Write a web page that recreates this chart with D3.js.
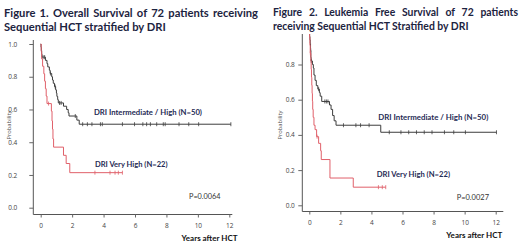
<!DOCTYPE html>
<html>
<head>
<meta charset="utf-8">
<script src="https://cdn.jsdelivr.net/npm/d3@7"></script>
<style>
  body { margin: 0; background: #fff; }
  #wrap { position: relative; width: 520px; height: 246px; overflow: hidden; }
  .title { position: absolute; font-family: Lato, "Open Sans", sans-serif; font-weight: bold;
           line-height: 13.5px; color: #1c2340; }
  .title .l1 { text-align: justify; text-align-last: justify; white-space: normal; }
  svg { position: absolute; left: 0; top: 0; }
</style>
</head>
<body>
<div id="wrap">
  <div class="title" id="t1" style="left:4px; top:6px; width:254px; font-size:11.2px;">
    <div class="l1">Figure 1. Overall Survival of 72 patients receiving</div>
    <div>Sequential HCT stratified by DRI</div>
  </div>
  <div class="title" id="t2" style="left:273px; top:6px; width:245px; font-size:10.4px;">
    <div class="l1">Figure 2. Leukemia Free Survival of 72 patients</div>
    <div>receiving Sequential HCT Stratified by DRI</div>
  </div>
</div>
<script>
// ---- data ----
var xTicks = [0, 2, 4, 6, 8, 10, 12];
var yTicks1 = [0, 0.2, 0.4, 0.6, 0.8, 1.0];
var yTicks2 = [0, 0.2, 0.4, 0.6, 0.8];

// Figure 1 - overall survival
var os_high_t = [0, 0.02, 0.04, 0.06, 0.08, 0.3, 0.4, 0.45, 0.55, 0.6, 0.7, 0.75, 0.8, 0.88, 0.95, 1.0, 1.03, 1.08, 1.12, 1.45, 1.65, 1.75, 1.8, 2.3, 2.45];
var os_high_s = [1.0, 0.98, 0.96, 0.94, 0.92, 0.90, 0.88, 0.86, 0.84, 0.82, 0.80, 0.78, 0.76, 0.74, 0.72, 0.70, 0.68, 0.66, 0.64, 0.62, 0.60, 0.58, 0.56, 0.535, 0.51];
var os_high_cens = [0.15, 0.25, 0.62, 0.92, 1.2, 1.3, 2.2, 2.67, 2.97, 3.26, 3.8, 3.92, 5.2, 5.97, 6.5, 6.74, 6.98, 7.38, 7.8, 7.92, 8.8, 9.42, 10.05, 12.1];
var os_vhigh_t = [0, 0.03, 0.06, 0.12, 0.2, 0.25, 0.3, 0.35, 0.4, 0.68, 0.72, 0.75, 0.78, 0.82, 1.45, 1.62, 1.85];
var os_vhigh_s = [1.0, 0.955, 0.909, 0.864, 0.818, 0.773, 0.727, 0.682, 0.636, 0.59, 0.53, 0.48, 0.42, 0.37, 0.32, 0.27, 0.214];
var os_vhigh_cens = [0.5, 3.45, 4.41, 4.73, 4.94, 5.2];

// Figure 2 - leukemia free survival
var lfs_high_t = [0, 0.02, 0.04, 0.06, 0.08, 0.1, 0.12, 0.2, 0.26, 0.3, 0.37, 0.45, 0.55, 0.65, 0.7, 0.8, 1.3, 1.4, 1.5, 1.6, 1.72, 4.6];
var lfs_high_s = [1.0, 0.96, 0.94, 0.92, 0.88, 0.84, 0.82, 0.80, 0.78, 0.74, 0.71, 0.68, 0.66, 0.64, 0.62, 0.59, 0.57, 0.545, 0.51, 0.48, 0.455, 0.415];
var lfs_high_cens = [0.09, 0.13, 0.6, 1.0, 1.1, 1.2, 2.2, 3.0, 3.3, 3.85, 5.15, 5.9, 6.4, 6.9, 7.4, 7.9, 8.7, 9.3, 10.05, 12.05];
var lfs_vhigh_t = [0, 0.02, 0.04, 0.06, 0.1, 0.12, 0.14, 0.16, 0.18, 0.2, 0.22, 0.25, 0.3, 0.37, 0.47, 0.6, 0.73, 0.77, 1.33, 2.83];
var lfs_vhigh_s = [1.0, 0.955, 0.909, 0.864, 0.818, 0.773, 0.727, 0.682, 0.636, 0.591, 0.545, 0.50, 0.455, 0.43, 0.39, 0.352, 0.31, 0.26, 0.155, 0.103];
var lfs_vhigh_cens = [0.07, 0.5, 4.45, 4.7, 4.92];

var highColor = "#3d3d3d";
var vhighColor = "#e0606a";
var labelColor = "#1f2b55";

var svg = d3.select("#wrap").append("svg")
    .attr("width", 520)
    .attr("height", 246);

function survAt(times, surv, t) {
    var s = surv[0];
    for (var i = 0; i < times.length; i++) {
        if (times[i] <= t) s = surv[i];
    }
    return s;
}

function drawPanel(p) {
    var x = d3.scaleLinear().domain([0, 12]).range([p.x0, p.x1]);
    var y = d3.scaleLinear().domain([0, 1]).range([p.y0, p.y1]);

    var g = svg.append("g");

    // clip (top of panel 2 is cut off in the original)
    var clipId = "clip" + p.id;
    svg.append("clipPath").attr("id", clipId)
      .append("rect")
        .attr("x", p.axisX)
        .attr("y", p.clipTop)
        .attr("width", p.axisEnd - p.axisX + 5)
        .attr("height", p.axisY - p.clipTop);

    // axes lines (L shaped frame)
    g.append("line")
        .attr("x1", p.axisX).attr("x2", p.axisX)
        .attr("y1", p.clipTop).attr("y2", p.axisY)
        .attr("stroke", "#555").attr("stroke-width", 1);
    g.append("line")
        .attr("x1", p.axisX).attr("x2", p.axisEnd)
        .attr("y1", p.axisY).attr("y2", p.axisY)
        .attr("stroke", "#555").attr("stroke-width", 1);

    // y axis
    var ya = g.append("g")
        .attr("transform", `translate(${p.axisX},0)`)
        .call(d3.axisLeft(y).tickValues(p.yTicks).tickSize(4).tickPadding(p.yPad).tickFormat(d3.format(".1f")));
    ya.select(".domain").remove();

    // x axis
    var xa = g.append("g")
        .attr("transform", `translate(0,${p.axisY})`)
        .call(d3.axisBottom(x).tickValues(xTicks).tickSize(3).tickPadding(6).tickFormat(d3.format("d")));
    xa.select(".domain").remove();

    g.selectAll(".tick line").attr("stroke", "#666");
    g.selectAll(".tick text")
        .attr("fill", "#444")
        .style("font-family", "'Open Sans', sans-serif")
        .style("font-size", "6.5px");

    // axis titles
    g.append("text")
        .attr("transform", `translate(${p.probX},125) rotate(-90)`)
        .attr("text-anchor", "middle")
        .attr("fill", "#555")
        .style("font-family", "'Open Sans', sans-serif")
        .style("font-size", "5.8px")
        .text("Probability");

    g.append("text")
        .attr("x", p.yearsRight)
        .attr("y", p.yearsY)
        .attr("text-anchor", "end")
        .attr("fill", "#111")
        .style("font-family", "Lato, sans-serif")
        .style("font-weight", "bold")
        .style("font-size", "8px")
        .text("Years after HCT");

    var plot = g.append("g").attr("clip-path", `url(#${clipId})`);

    var line = d3.line()
        .x(d => x(d.t))
        .y(d => y(d.s))
        .curve(d3.curveStepAfter);

    p.curves.forEach(function (c) {
        var pts = c.times.map((t, i) => ({t: t, s: c.surv[i]}));
        var tEnd = d3.max(c.cens);
        pts.push({t: tEnd, s: c.surv[c.surv.length - 1]});

        plot.append("path")
            .datum(pts)
            .attr("d", line)
            .attr("fill", "none")
            .attr("stroke", c.color)
            .attr("stroke-width", 1);

        plot.selectAll(null)
            .data(c.cens)
          .enter().append("line")
            .attr("x1", d => x(d)).attr("x2", d => x(d))
            .attr("y1", d => y(survAt(c.times, c.surv, d)) - 2)
            .attr("y2", d => y(survAt(c.times, c.surv, d)) + 2)
            .attr("stroke", c.color)
            .attr("stroke-width", 0.8);
    });

    // labels
    p.labels.forEach(function (l) {
        g.append("text")
            .attr("x", l.x)
            .attr("y", l.y)
            .attr("fill", l.bold ? labelColor : "#333")
            .attr("textLength", l.w)
            .attr("lengthAdjust", "spacingAndGlyphs")
            .style("font-family", "Lato, sans-serif")
            .style("font-weight", l.bold ? "bold" : "normal")
            .style("font-size", l.size + "px")
            .text(l.text);
    });
}

drawPanel({
    id: 1,
    x0: 40.7, x1: 229.3, y0: 207.7, y1: 44,
    axisX: 33.3, axisY: 214.5, axisEnd: 232.3, clipTop: 40,
    yTicks: yTicks1, yPad: 12, probX: 11,
    yearsRight: 237.5, yearsY: 240.5,
    curves: [
        {times: os_high_t, surv: os_high_s, cens: os_high_cens, color: highColor},
        {times: os_vhigh_t, surv: os_vhigh_s, cens: os_vhigh_cens, color: vhighColor}
    ],
    labels: [
        {text: "DRI Intermediate / High (N=50)", x: 94, y: 115, w: 108, size: 8.2, bold: true},
        {text: "DRI Very High (N=22)", x: 95, y: 166.5, w: 72.5, size: 8.2, bold: true},
        {text: "P=0.0064", x: 189, y: 198.5, w: 31.5, size: 8, bold: false}
    ]
});

drawPanel({
    id: 2,
    x0: 309.3, x1: 495.7, y0: 205.3, y1: 29.3,
    axisX: 302.3, axisY: 211.5, axisEnd: 503.3, clipTop: 34,
    yTicks: yTicks2, yPad: 3.5, probX: 281.5,
    yearsRight: 502.3, yearsY: 238,
    curves: [
        {times: lfs_high_t, surv: lfs_high_s, cens: lfs_high_cens, color: highColor},
        {times: lfs_vhigh_t, surv: lfs_vhigh_s, cens: lfs_vhigh_cens, color: vhighColor}
    ],
    labels: [
        {text: "DRI Intermediate / High  (N=50)", x: 378.3, y: 120, w: 110, size: 8.2, bold: true},
        {text: "DRI Very High (N=22)", x: 376.7, y: 176.5, w: 73.3, size: 8.2, bold: true},
        {text: "P=0.0027", x: 456.7, y: 199.5, w: 32.3, size: 8, bold: false}
    ]
});
</script>
</body>
</html>
